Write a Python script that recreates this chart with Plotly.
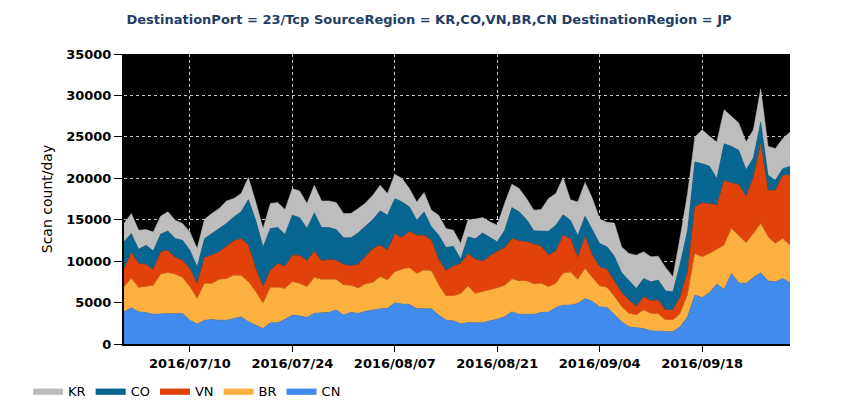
import pandas as pd
import plotly.graph_objects as go

# daily scan counts, 2016/07/01 .. 2016/09/30
days = pd.date_range('2016-07-01', '2016-09-30', freq='D')

cn = [3890, 4370, 3890, 3810, 3600, 3680, 3680, 3640, 3680, 2880,
      2400, 2880, 2960, 2880, 2880, 3080, 3280, 2680, 2280, 1880,
      2560, 2560, 3000, 3480, 3400, 3210, 3700, 3780, 3820, 4100,
      3500, 3820, 3700, 3940, 4100, 4260, 4300, 4980, 4820, 4780,
      4290, 4250, 4250, 3490, 2890, 2810, 2450, 2590, 2590, 2570,
      2810, 3000, 3300, 3900, 3580, 3620, 3580, 3820, 3860, 4420,
      4700, 4720, 4900, 5500, 5140, 4500, 4420, 3550, 2700, 2080,
      2000, 1880, 1600, 1560, 1480, 1480, 2080, 3290, 5900, 5620,
      6180, 7230, 6580, 8510, 7390, 7310, 8030, 8590, 7630, 7510,
      7910, 7390]
br = [3010, 3540, 2930, 3170, 3460, 4750, 4910, 4790, 4350, 4020,
      3090, 4420, 4340, 4900, 4980, 5230, 4990, 4820, 4020, 3010,
      4260, 4260, 3700, 4020, 3900, 3700, 4340, 4010, 3970, 3690,
      3610, 3250, 3050, 3290, 3330, 3860, 3410, 3730, 4210, 4410,
      4220, 4660, 4580, 3620, 2890, 2970, 3610, 4400, 3510, 3730,
      3740, 3760, 3750, 3930, 4010, 3970, 3650, 3490, 3050, 2890,
      3820, 3980, 2890, 3620, 2860, 2490, 2410, 2200, 1800, 1610,
      1490, 2210, 2090, 2050, 1410, 1410, 1610, 2610, 5020, 4900,
      4740, 4210, 5350, 5420, 5740, 4900, 5300, 5950, 5300, 4620,
      4820, 4540]
vn = [2210, 3090, 2890, 2650, 1930, 2690, 2730, 2010, 2090, 2210,
      1810, 3140, 3420, 3340, 3940, 4140, 4460, 4430, 2810, 2010,
      2090, 2890, 2690, 3220, 3420, 3130, 3170, 2250, 2410, 2330,
      2490, 2370, 2890, 3380, 4100, 3810, 3620, 4540, 3820, 4420,
      4620, 4220, 3700, 3090, 3050, 3620, 3700, 3890, 4160, 3700,
      4110, 4440, 4550, 4910, 4860, 4740, 4820, 4500, 3820, 3900,
      4620, 4000, 2660, 3850, 2730, 2290, 2170, 1800, 1700, 1610,
      1080, 1610, 1530, 1690, 1200, 1200, 2010, 2810, 5630, 6510,
      6030, 5310, 7830, 5510, 6110, 5620, 6830, 9640, 5620, 6420,
      7630, 8510]
co = [3220, 2330, 1730, 2300, 2250, 2130, 2330, 2290, 2410, 2210,
      2010, 2290, 2610, 2820, 2740, 2890, 3220, 5500, 5830, 4820,
      5030, 4350, 3860, 4820, 4540, 3900, 4620, 4020, 3860, 3700,
      3220, 3380, 3780, 3610, 3490, 4140, 4220, 4300, 4300, 2940,
      1810, 2810, 1610, 2930, 2820, 2410, 500, 2050, 2440, 3410,
      2240, 1130, 2100, 3730, 3500, 2690, 1610, 1850, 2890, 3130,
      2460, 2240, 2650, 2460, 3110, 2850, 2730, 3050, 2400, 2410,
      2130, 2210, 2290, 2410, 2330, 2210, 4020, 5020, 5420, 4740,
      4500, 3210, 4420, 4420, 4130, 3210, 2330, 2610, 1810, 1210,
      800, 1010]
kr = [2210, 2410, 2290, 1880, 2290, 2170, 2300, 2210, 2010, 2210,
      2210, 2330, 2410, 2410, 2730, 2210, 2210, 2660, 2210, 2220,
      3010, 3010, 2980, 3220, 3220, 3010, 3330, 3210, 3210, 3250,
      2930, 2930, 2930, 2810, 2940, 3090, 2610, 2930, 2810, 2210,
      2210, 2330, 2000, 2410, 2290, 1920, 1870, 2050, 2380, 1850,
      1840, 2010, 3250, 2810, 2810, 2540, 2490, 2570, 3940, 3820,
      4490, 2460, 4050, 4070, 3710, 2950, 2950, 4000, 3100, 3210,
      4020, 3210, 3010, 2890, 2810, 1810, 3210, 4420, 3010, 4090,
      3610, 4420, 4100, 3610, 3300, 3340, 3370, 4020, 3500, 3820,
      3620, 4130]

series = [('CN', cn, '#428bee'), ('BR', br, '#fbb040'), ('VN', vn, '#e0420a'),
          ('CO', co, '#066591'), ('KR', kr, '#bdbdbd')]

fig = go.Figure()
for name, vals, color in series:
    fig.add_trace(go.Scatter(x=days, y=vals, name=name, mode='lines',
                             stackgroup='one', fillcolor=color,
                             line=dict(color=color, width=0.5)))

# page body has an 8px margin, so the figure is a bit smaller than the window
fig.update_layout(
    width=842, height=412,
    margin=dict(l=116, r=60, t=46, b=76),
    paper_bgcolor='white', plot_bgcolor='black',
    font=dict(family='DejaVu Sans', color='black'),
    title=dict(text='DestinationPort = 23/Tcp SourceRegion = KR,CO,VN,BR,CN DestinationRegion = JP',
               x=0.5, xref='container', xanchor='center',
               y=0.971, yref='container', yanchor='middle',
               font=dict(size=13, color='#1f3d66', weight='bold')),
    legend=dict(orientation='h', x=-0.144, xanchor='left', y=-0.11, yanchor='top',
                traceorder='reversed', font=dict(size=13)),
    showlegend=True,
)
fig.update_xaxes(range=[days[0], days[-1]], tickformat='%Y/%m/%d',
                 tick0='2016-07-10', dtick=14 * 86400000,
                 ticks='outside', ticklen=6, tickcolor='black',
                 showline=True, linecolor='black', linewidth=2,
                 showgrid=True, gridcolor='#c8c8c8', griddash='dot', gridwidth=1,
                 tickfont=dict(size=13, weight='bold'))
fig.update_yaxes(range=[0, 35000], dtick=5000, tickformat='d',
                 ticks='outside', ticklen=8, tickcolor='black',
                 showline=True, linecolor='black', linewidth=2,
                 showgrid=True, gridcolor='#c8c8c8', griddash='dot', gridwidth=1,
                 zeroline=False,
                 title=dict(text='Scan count/day', font=dict(size=14), standoff=10),
                 tickfont=dict(size=13, weight='bold'))

fig.write_html("out.html")
